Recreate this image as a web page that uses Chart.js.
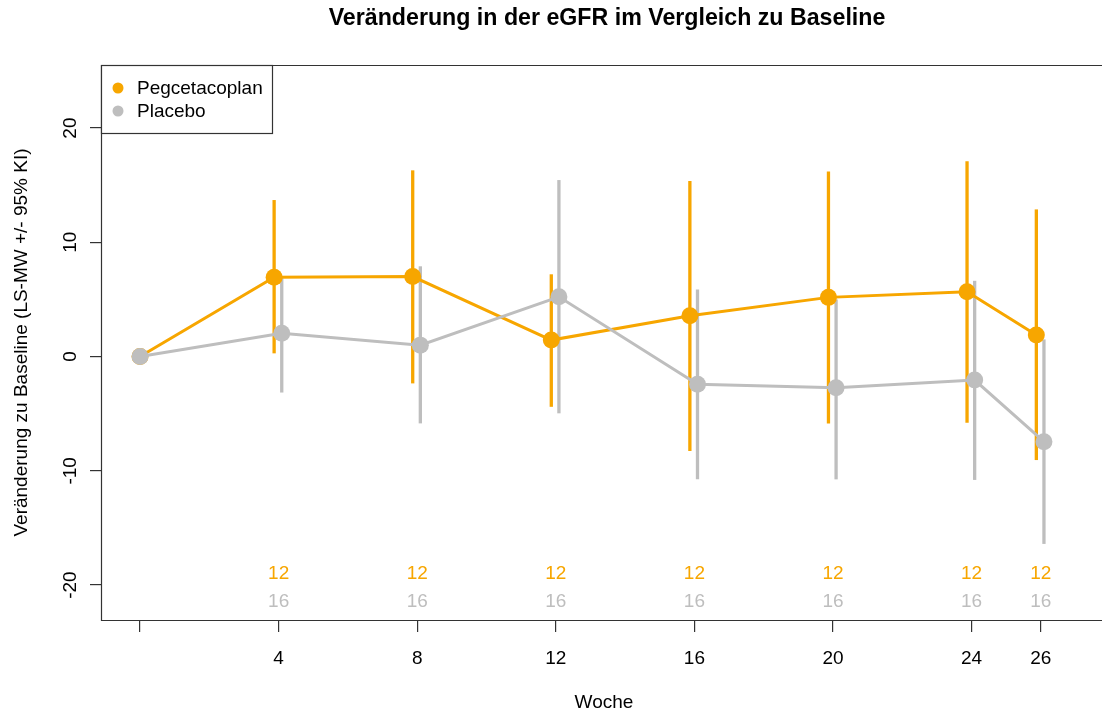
<!DOCTYPE html>
<html>
<head>
<meta charset="utf-8">
<script src="https://cdn.jsdelivr.net/npm/chart.js@4.4.1/dist/chart.umd.min.js"></script>
<style>
html,body{margin:0;padding:0;background:#fff;overflow:hidden;}
#wrap{width:1102px;height:713px;position:relative;}
</style>
</head>
<body>
<div id="wrap"><canvas id="c" width="1102" height="713"></canvas></div>
<script>
const weeks = [0, 4, 8, 12, 16, 20, 24, 26];
const pegMean  = [0, 6.95, 7.0, 1.44, 3.57, 5.18, 5.67, 1.88];
const pegLower = [0, 0.28, -2.35, -4.4, -8.27, -5.85, -5.8, -9.06];
const pegUpper = [0, 13.7, 16.3, 7.2, 15.36, 16.2, 17.1, 12.88];
const plaMean  = [0, 2.03, 1.0, 5.23, -2.43, -2.73, -2.06, -7.45];
const plaLower = [0, -3.15, -5.85, -4.97, -10.75, -10.75, -10.8, -16.4];
const plaUpper = [0, 7.0, 7.9, 15.45, 5.88, 5.0, 6.63, 1.5];
const countWeeks = [4, 8, 12, 16, 20, 24, 26];
const pegN = [12, 12, 12, 12, 12, 12, 12];
const plaN = [16, 16, 16, 16, 16, 16, 16];
const xTicks = [0, 4, 8, 12, 16, 20, 24, 26];
const xTickLabels = ['', '4', '8', '12', '16', '20', '24', '26'];
const yTicks = [-20, -10, 0, 10, 20];
const yTickLabels = ['-20', '-10', '0', '10', '20'];
const seriesNames = ['Pegcetacoplan', 'Placebo'];
const titleText = 'Veränderung in der eGFR im Vergleich zu Baseline';
const xTitle = 'Woche';
const yTitle = 'Veränderung zu Baseline (LS-MW +/- 95% KI)';
const countLevels = [-18.97, -21.5];

const ORANGE = '#F7A600';
const GRAY = '#BEBEBE';
const AXIS = '#333333';
const FONT = '"Liberation Sans", Arial, sans-serif';
const PEG_DODGE = -0.13, PLA_DODGE = 0.09;
function dx(w, d) { return w === 0 ? 0 : d; }

const pegPts = weeks.map((w, i) => ({x: w + dx(w, PEG_DODGE), y: pegMean[i]}));
const plaPts = weeks.map((w, i) => ({x: w + dx(w, PLA_DODGE), y: plaMean[i]}));

const decor = {
  id: 'decor',
  beforeDatasetsDraw(chart) {
    const ctx = chart.ctx, xs = chart.scales.x, ys = chart.scales.y;
    ctx.save();
    ctx.lineWidth = 3.3;
    ctx.lineCap = 'butt';
    const bars = (lo, hi, d, col) => {
      ctx.strokeStyle = col;
      weeks.forEach((w, i) => {
        if (lo[i] === hi[i]) return;
        const px = xs.getPixelForValue(w + dx(w, d));
        ctx.beginPath();
        ctx.moveTo(px, ys.getPixelForValue(lo[i]));
        ctx.lineTo(px, ys.getPixelForValue(hi[i]));
        ctx.stroke();
      });
    };
    bars(pegLower, pegUpper, PEG_DODGE, ORANGE);
    bars(plaLower, plaUpper, PLA_DODGE, GRAY);
    ctx.restore();
  },
  afterDraw(chart) {
    const ctx = chart.ctx, xs = chart.scales.x, ys = chart.scales.y, a = chart.chartArea;
    ctx.save();
    // box (top, left, bottom)
    ctx.strokeStyle = AXIS; ctx.lineWidth = 1.2;
    ctx.beginPath();
    ctx.moveTo(chart.width + 5, a.top + 0.5); ctx.lineTo(a.left + 0.5, a.top + 0.5);
    ctx.lineTo(a.left + 0.5, a.bottom + 0.5); ctx.lineTo(chart.width + 5, a.bottom + 0.5);
    ctx.stroke();
    // y tick labels rotated
    ctx.fillStyle = '#000';
    ctx.font = '19px ' + FONT;
    ctx.textAlign = 'center'; ctx.textBaseline = 'alphabetic';
    yTicks.forEach((v, i) => {
      const py = ys.getPixelForValue(v);
      ctx.save(); ctx.translate(75.5, py); ctx.rotate(-Math.PI / 2);
      ctx.fillText(yTickLabels[i], 0, 0); ctx.restore();
    });
    // axis titles
    ctx.save(); ctx.translate(27, (a.top + a.bottom) / 2); ctx.rotate(-Math.PI / 2);
    ctx.fillText(yTitle, 0, 0); ctx.restore();
    ctx.textBaseline = 'middle';
    ctx.fillText(xTitle, 604, 703);
    ctx.font = 'bold 23.2px ' + FONT;
    ctx.fillText(titleText, 607, 19);
    // counts
    ctx.font = '19px ' + FONT;
    countWeeks.forEach((w, i) => {
      const px = xs.getPixelForValue(w);
      ctx.fillStyle = ORANGE;
      ctx.fillText(String(pegN[i]), px, ys.getPixelForValue(countLevels[0]));
      ctx.fillStyle = GRAY;
      ctx.fillText(String(plaN[i]), px, ys.getPixelForValue(countLevels[1]));
    });
    // legend
    const lx = a.left, ly = a.top;
    ctx.fillStyle = '#fff';
    ctx.fillRect(lx, ly, 171, 68);
    ctx.strokeStyle = AXIS; ctx.lineWidth = 1.2;
    ctx.strokeRect(lx + 0.5, ly + 0.5, 171, 68);
    const cols = [ORANGE, GRAY];
    seriesNames.forEach((n, i) => {
      const yy = ly + 23 + i * 23;
      ctx.fillStyle = cols[i];
      ctx.beginPath(); ctx.arc(lx + 17, yy, 5.5, 0, Math.PI * 2); ctx.fill();
      ctx.fillStyle = '#000'; ctx.textAlign = 'left'; ctx.textBaseline = 'middle';
      ctx.fillText(n, lx + 36, yy + 1);
    });
    ctx.restore();
  }
};

function zeroPad(s) { s.paddingLeft = 0; s.paddingRight = 0; s.paddingTop = 0; s.paddingBottom = 0; }

new Chart(document.getElementById('c'), {
  type: 'line',
  data: {
    datasets: [
      {label: seriesNames[1], data: plaPts, borderColor: GRAY, backgroundColor: GRAY,
       borderWidth: 3, pointRadius: 8.5, pointBorderWidth: 0, pointHoverRadius: 8.5, tension: 0, order: 0},
      {label: seriesNames[0], data: pegPts, borderColor: ORANGE, backgroundColor: ORANGE,
       borderWidth: 3, pointRadius: 8.5, pointBorderWidth: 0, pointHoverRadius: 8.5, tension: 0, order: 1}
    ]
  },
  options: {
    responsive: false, animation: false, devicePixelRatio: 1,
    layout: {padding: {top: 65, left: 0, right: 0, bottom: 0}},
    plugins: {legend: {display: false}, title: {display: false}, tooltip: {enabled: false}},
    events: [],
    scales: {
      x: {
        type: 'linear', min: -1.127, max: 27.52,
        afterBuildTicks: s => { s.ticks = xTicks.map(v => ({value: v})); },
        ticks: {
          autoSkip: false, maxRotation: 0, minRotation: 0, padding: 15,
          color: '#000', font: {family: FONT, size: 19},
          callback: (v) => { const i = xTicks.indexOf(v); return i >= 0 ? xTickLabels[i] : ''; }
        },
        grid: {drawOnChartArea: false, drawTicks: true, tickLength: 12, color: AXIS, lineWidth: 1.2},
        border: {display: false},
        afterFit: s => { s.height = 93; zeroPad(s); }
      },
      y: {
        type: 'linear', min: -23.06, max: 25.52,
        afterBuildTicks: s => { s.ticks = yTicks.map(v => ({value: v})); },
        ticks: {color: 'rgba(0,0,0,0)', font: {family: FONT, size: 19}},
        grid: {drawOnChartArea: false, drawTicks: true, tickLength: 11, color: AXIS, lineWidth: 1.2},
        border: {display: false},
        afterFit: s => { s.width = 101; zeroPad(s); }
      }
    }
  },
  plugins: [decor]
});
</script>
</body>
</html>
